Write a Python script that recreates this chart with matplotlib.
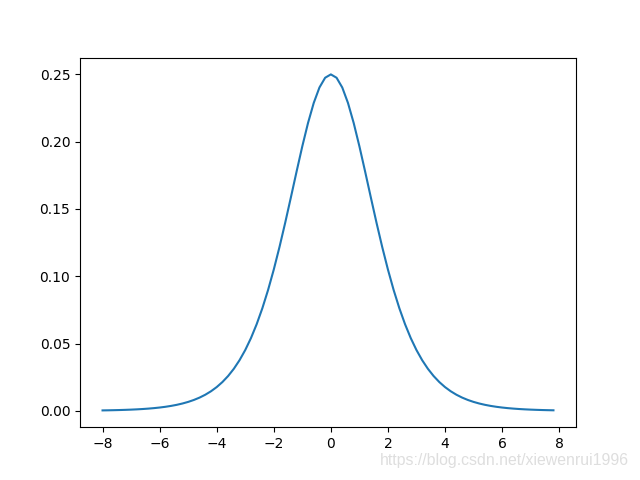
import matplotlib
matplotlib.use("Agg")
import matplotlib.pyplot as plt
import numpy as np

# x sampled from -8 to 7.8 in steps of 0.2
x = np.arange(-8, 8, 0.2)
y = [0.000335, 0.000409, 0.000500, 0.000611, 0.000746, 0.000910, 0.001111, 0.001356,
     0.001656, 0.002021, 0.002467, 0.003010, 0.003671, 0.004476, 0.005457, 0.006648,
     0.008096, 0.009853, 0.011981, 0.014556, 0.017663, 0.021402, 0.025890, 0.031253,
     0.037632, 0.045177, 0.054038, 0.064358, 0.076255, 0.089800, 0.104994, 0.121729,
     0.139762, 0.158685, 0.177894, 0.196612, 0.213910, 0.228784, 0.240261, 0.247517,
     0.250000,
     0.247517, 0.240261, 0.228784, 0.213910, 0.196612, 0.177894, 0.158685, 0.139762,
     0.121729, 0.104994, 0.089800, 0.076255, 0.064358, 0.054038, 0.045177, 0.037632,
     0.031253, 0.025890, 0.021402, 0.017663, 0.014556, 0.011981, 0.009853, 0.008096,
     0.006648, 0.005457, 0.004476, 0.003671, 0.003010, 0.002467, 0.002021, 0.001656,
     0.001356, 0.001111, 0.000910, 0.000746, 0.000611, 0.000500, 0.000409]

fig, ax = plt.subplots(figsize=(6.4, 4.8), dpi=100)
ax.plot(x, y)

# faint watermark bottom right
fig.text(0.983, 0.041, "https://blog.csdn.net/xiewenrui1996", ha='right', va='center',
         fontsize=11.4, family='Liberation Sans', color='#dedede')

fig.savefig("out.png")
